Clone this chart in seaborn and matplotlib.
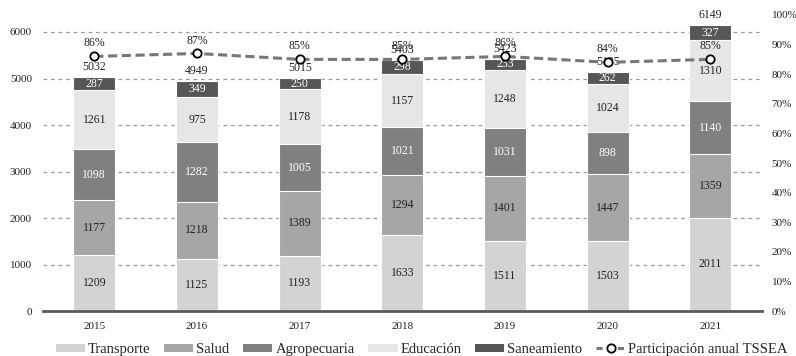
import matplotlib
matplotlib.use("Agg")
import matplotlib.pyplot as plt
import seaborn as sns
import pandas as pd
import numpy as np
from matplotlib.patches import Patch
from matplotlib.lines import Line2D

years = ["2015", "2016", "2017", "2018", "2019", "2020", "2021"]
transporte = [1209, 1125, 1193, 1633, 1511, 1503, 2011]
salud = [1177, 1218, 1389, 1294, 1401, 1447, 1359]
agropecuaria = [1098, 1282, 1005, 1021, 1031, 898, 1140]
educacion = [1261, 975, 1178, 1157, 1248, 1024, 1310]
saneamiento = [287, 349, 250, 298, 233, 262, 327]
totales = [5032, 4949, 5015, 5403, 5423, 5135, 6149]
participacion = [0.86, 0.87, 0.85, 0.85, 0.86, 0.84, 0.85]
part_labels = ["86%", "87%", "85%", "85%", "86%", "84%", "85%"]

series_names = ["Transporte", "Salud", "Agropecuaria", "Educación", "Saneamiento"]
series_vals = [transporte, salud, agropecuaria, educacion, saneamiento]
colors = ["#d3d3d5", "#a6a6a9", "#808083", "#e6e6e8", "#565658"]
text_colors = ["#222222", "#222222", "#ffffff", "#222222", "#ffffff"]

sns.set_theme(style="white")
plt.rcParams["font.family"] = ["Liberation Serif", "DejaVu Serif"]

fig = plt.figure(figsize=(7.96, 3.56), dpi=100)
ax = fig.add_axes([0.054, 0.126, 0.903, 0.832])

cum = np.zeros(len(years))
cums = []
for vals in series_vals:
    cum = cum + np.array(vals)
    cums.append(cum.copy())

# draw from top layer down so each lower cumulative covers the previous
for i in reversed(range(len(series_vals))):
    d = pd.DataFrame({"year": years, "v": cums[i]})
    sns.barplot(data=d, x="year", y="v", color=colors[i], width=0.41,
                edgecolor="white", linewidth=0.8, ax=ax, saturation=1)

# segment labels
for i, vals in enumerate(series_vals):
    bottoms = cums[i] - np.array(vals)
    for j, v in enumerate(vals):
        ax.text(j, bottoms[j] + v / 2, str(v), ha="center", va="center",
                fontsize=8.5, color=text_colors[i])

# totals
for j, t in enumerate(totales):
    ax.annotate(str(t), (j, t), xytext=(0, 3), textcoords="offset points",
                ha="center", va="bottom", fontsize=8.5, color="#222222")

ax.set_xlim(-0.5, 6.5)
ax.set_ylim(0, 6366)
ax.set_yticks([0, 1000, 2000, 3000, 4000, 5000, 6000])
ax.set_xlabel("")
ax.set_ylabel("")
ax.tick_params(axis="both", labelsize=8, colors="#222222", length=0, pad=8)
for yv in [1000, 2000, 3000, 4000, 5000, 6000]:
    ax.axhline(yv, color="#9a9a9a", lw=0.9, ls=(0, (3, 3)), zorder=0)
ax.set_axisbelow(True)
for s in ["top", "right", "left"]:
    ax.spines[s].set_visible(False)
ax.spines["bottom"].set_color("#595959")
ax.spines["bottom"].set_linewidth(2)

ax2 = ax.twinx()
dl = pd.DataFrame({"x": np.arange(len(years)), "p": participacion})
sns.lineplot(data=dl, x="x", y="p", ax=ax2, color="#777777", lw=2.2,
             linestyle=(0, (3, 1.5)), marker="o", markersize=6,
             markerfacecolor="white", markeredgecolor="black", markeredgewidth=1.3)
for j, (p, lab) in enumerate(zip(participacion, part_labels)):
    ax2.annotate(lab, (j, p), xytext=(0, 5), textcoords="offset points",
                 ha="center", va="bottom", fontsize=8.5, color="#222222")
ax2.set_ylim(0, 1.0)
ax2.set_yticks(np.linspace(0, 1, 11))
ax2.set_yticklabels([f"{int(round(v*100))}%" for v in np.linspace(0, 1, 11)])
ax2.set_xlim(-0.5, 6.5)
ax2.set_ylabel("")
ax2.tick_params(axis="y", labelsize=8, colors="#222222", length=0, pad=7)
for s in ["top", "right", "left", "bottom"]:
    ax2.spines[s].set_visible(False)

handles = [Patch(facecolor=c, edgecolor="none") for c in colors]
handles.append(Line2D([0], [0], color="#777777", lw=2.2, linestyle=(0, (2, 1.5)),
                      marker="o", markersize=6, markerfacecolor="white",
                      markeredgecolor="black", markeredgewidth=1.3))
labels = series_names + ["Participación anual TSSEA"]
fig.legend(handles, labels, loc="center", bbox_to_anchor=(0.53, 0.018),
           ncol=6, frameon=False, fontsize=10.5, handlelength=2.0,
           handleheight=0.55, handletextpad=0.2, columnspacing=0.95,
           borderaxespad=0, borderpad=0)

fig.savefig("out.png", dpi=100)
